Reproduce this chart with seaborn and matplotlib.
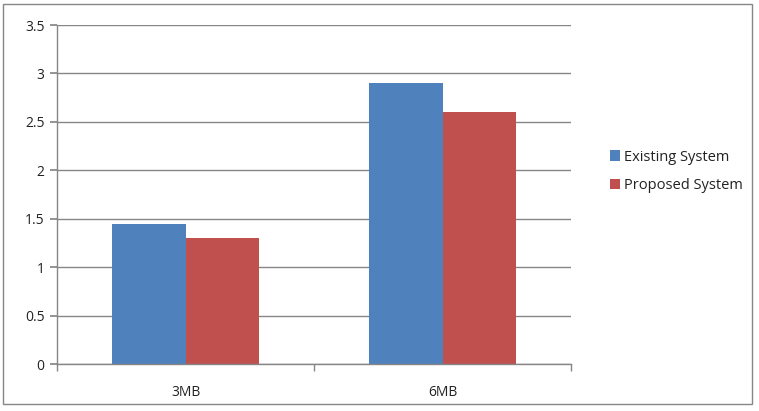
import matplotlib
matplotlib.use("Agg")
import matplotlib.pyplot as plt
import seaborn as sns
import pandas as pd
from matplotlib.patches import Rectangle

categories = ["3MB", "6MB"]
series_names = ["Existing System", "Proposed System"]
existing = [1.45, 2.9]
proposed = [1.3, 2.6]
yticks = [0, 0.5, 1, 1.5, 2, 2.5, 3, 3.5]
ytick_labels = ["0", "0.5", "1", "1.5", "2", "2.5", "3", "3.5"]
colors = ["#4F81BD", "#C0504D"]

df = pd.DataFrame({
    "cat": categories * 2,
    "series": [series_names[0]] * 2 + [series_names[1]] * 2,
    "value": existing + proposed,
})

sns.set_theme(style="white")
plt.rcParams["font.family"] = ["Open Sans", "DejaVu Sans"]

W, H = 759, 411
fig = plt.figure(figsize=(W / 100, H / 100), dpi=100)
ax = fig.add_axes([57 / W, 1 - 364 / H, (571 - 57) / W, (364 - 25) / H])

sns.barplot(data=df, x="cat", y="value", hue="series", palette=colors,
            width=0.572, saturation=1, ax=ax, legend=True, edgecolor="none")

ax.set_ylim(0, 3.5)
ax.set_xlim(-0.5, 1.5)
ax.set_yticks(yticks)
ax.set_yticklabels(ytick_labels)
ax.yaxis.grid(True, color="#868686", linewidth=1.0)
ax.set_axisbelow(True)
ax.set_xlabel("")
ax.set_ylabel("")

for s in ["top", "right"]:
    ax.spines[s].set_visible(False)
for s in ["left", "bottom"]:
    ax.spines[s].set_color("#868686")
    ax.spines[s].set_linewidth(1.0)

ax.tick_params(axis="y", which="major", left=True, length=5, color="#868686",
               labelsize=10, labelcolor="#222222", pad=4)
ax.set_xticks([0, 1])
ax.set_xticklabels(categories)
ax.tick_params(axis="x", which="major", bottom=False, labelsize=10,
               labelcolor="#222222", pad=9)
ax.set_xticks([-0.5, 0.5, 1.5], minor=True)
ax.tick_params(axis="x", which="minor", bottom=True, length=5, color="#868686")

leg = ax.legend(loc="center left", bbox_to_anchor=((604 - 57) / (571 - 57), 0.568),
                frameon=False, fontsize=10.5, handlelength=0.7, handleheight=0.7,
                handletextpad=0.3, labelspacing=0.95, borderaxespad=0)
for t in leg.get_texts():
    t.set_color("#222222")

fig.patches.append(Rectangle((3 / W, 1 - 404 / H), (752 - 3) / W, (404 - 4) / H,
                             transform=fig.transFigure, fill=False,
                             edgecolor="#868686", linewidth=1.0))

fig.savefig("out.png", dpi=100)
